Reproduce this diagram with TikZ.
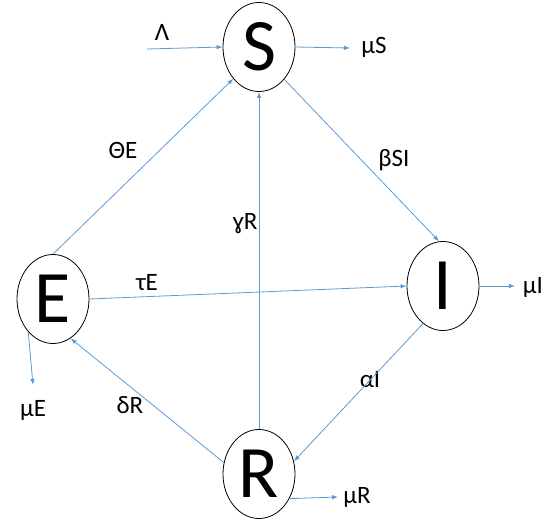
\documentclass[tikz,border=0pt]{standalone}
\usepackage{fontspec}
\setmainfont{Carlito}
\usetikzlibrary{shapes.geometric,arrows.meta}
\definecolor{flow}{RGB}{91,155,213}
\tikzset{
  comp/.style={draw=black, line width=0.8pt, ellipse, minimum width=72pt, minimum height=89pt, inner sep=0pt, font=\fontsize{74}{74}\selectfont},
  lab/.style={font=\fontsize{25}{25}\selectfont, inner sep=0pt},
  flowline/.style={draw=flow, line width=0.8pt, -{Latex[length=6pt,width=4.5pt]}}
}
\begin{document}
\begin{tikzpicture}[x=1pt,y=-1pt]
\useasboundingbox (0,0) rectangle (546,521);
\node[comp] (S) at (259,47) {S};
\node[comp] (E) at (53,299) {E};
\node[comp] (I) at (443,286) {I};
\node[comp] (R) at (259,474) {R};
\coordinate (lamin) at (147,49);
\coordinate (muSend) at (350,48);
\coordinate (muIend) at (515,286);
\coordinate (muEend) at (33,385);
\coordinate (muRend) at (338,497);
\node[lab] (lamL) at (162,32) {Λ};
\node[lab] (muSL) at (374,47) {μS};
\node[lab] (muIL) at (533,287) {μI};
\node[lab] (muEL) at (33,410) {μE};
\node[lab] (muRL) at (357,497) {μR};
\node[lab] (thL) at (123,150) {ΘE};
\node[lab] (beL) at (394,160) {βSI};
\node[lab] (gaL) at (245,224) {ɣR};
\node[lab] (taL) at (147,283) {τE};
\node[lab] (alL) at (370,380) {αI};
\node[lab] (deL) at (130,405) {δR};
\draw[flowline] (lamin) -- (S.west);
\draw[flowline] (S.east) -- (muSend);
\draw[flowline] (I.east) -- (muIend);
\draw[flowline] (E.233) -- (muEend);
\draw[flowline] (R.-39) -- (muRend);
\draw[flowline] (E.north) -- (S.231);
\draw[flowline] (R.north) -- (S.south);
\draw[flowline] (S.-52) -- (I.95);
\draw[flowline] (E.east) -- (I.west);
\draw[flowline] (I.242) -- (R.20);
\draw[flowline] (R.162) -- (E.-66);
\end{tikzpicture}
\end{document}
